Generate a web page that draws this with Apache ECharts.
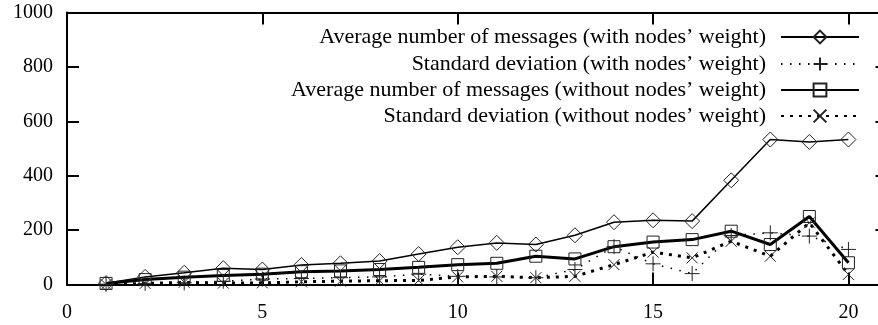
<!DOCTYPE html>
<html>
<head>
<meta charset="utf-8">
<script src="https://cdn.jsdelivr.net/npm/echarts@6/dist/echarts.min.js"></script>
<style>
html,body{margin:0;padding:0;background:#fff;}
#chart{width:878px;height:325px;}
</style>
</head>
<body>
<div id="chart"></div>
<script>
var xValues = [1,2,3,4,5,6,7,8,9,10,11,12,13,14,15,16,17,18,19,20];
var avgWithWeight = [5,28,43,60,55,72,78,86,112,137,153,147,181,229,236,233,383,533,524,533];
var stdWithWeight = [1,4,6,12,20,22,25,28,38,30,28,25,55,139,76,40,180,190,178,129];
var avgWithoutWeight = [4,18,27,33,38,47,50,55,63,73,78,104,94,139,156,165,196,147,250,80];
var stdWithoutWeight = [0,4,8,5,6,10,12,14,15,28,30,25,30,73,119,98,159,104,227,37];
var seriesNames = [
  'Average number of messages (with nodes\u2019 weight)',
  'Standard deviation (with nodes\u2019 weight)',
  'Average number of messages (without nodes\u2019 weight)',
  'Standard deviation (without nodes\u2019 weight)'
];
var xTicks = [0,5,10,15,20];
var yTicks = [0,200,400,600,800,1000];

function pairs(vals){ return xValues.map(function(x,i){ return [x, vals[i]]; }); }

var FONT = '"Liberation Serif", "DejaVu Serif", serif';
var chart = echarts.init(document.getElementById('chart'));

var GL = 67, GT = 12.5, GW = 820.5, GH = 272, TICK = 12;

var symDiamond = 'path://M0,-7L7,0L0,7L-7,0Z';
var symPlus = 'path://M0,-7L0,7M-7,0L7,0';
var symSquare = 'path://M-6,-6L6,-6L6,6L-6,6Z';
var symCross = 'path://M-6,-6L6,6M-6,6L6,-6';

function mkSeries(name, data, sym, size, lw, ltype){
  return {
    name: name, type: 'line', data: pairs(data), xAxisIndex: 0, yAxisIndex: 0,
    symbol: sym, symbolSize: size, symbolKeepAspect: true, showAllSymbol: true,
    itemStyle: {color: 'rgba(0,0,0,0)', borderColor: '#222', borderWidth: 1},
    lineStyle: {color: '#000', width: lw, type: ltype}
  };
}

var legendCenters = [37, 64, 90, 116];
var legends = seriesNames.map(function(n, i){
  return {
    data: [n], orient: 'vertical', right: 18, top: legendCenters[i] - 11,
    itemWidth: 78, itemHeight: 16, itemGap: 0, selectedMode: false, padding: 0,
    textStyle: {fontFamily: FONT, fontSize: 22, color: '#000', padding: [0, 10, 0, 0]},
    align: 'right'
  };
});

// Tick marks drawn as dashed split lines: a 12px dash at each end of the grid.
function tickSplit(span){
  return {show: true, lineStyle: {color: '#000', width: 2, type: [TICK, span - 2 * TICK, TICK, 4000]}};
}
function frameAxis(extra){
  var a = {
    axisLine: {show: true, onZero: false, lineStyle: {color: '#000', width: 2}},
    axisTick: {show: false},
    splitLine: {show: false}
  };
  for (var k in extra) a[k] = extra[k];
  return a;
}

var option = {
  animation: false,
  grid: {left: GL, top: GT, width: GW, height: GH, containLabel: false, outerBoundsMode: 'none'},
  legend: legends,
  xAxis: [
    frameAxis({type: 'value', min: 0, max: 21, interval: 5, position: 'bottom',
      splitLine: tickSplit(GH),
      axisLabel: {show: true, margin: 18, fontFamily: FONT, fontSize: 20, color: '#000', showMaxLabel: false,
        formatter: function(v){ return xTicks.indexOf(v) >= 0 ? String(v) : ''; }}}),
    frameAxis({type: 'value', min: 0, max: 21, interval: 5, position: 'top', axisLabel: {show: false}})
  ],
  yAxis: [
    frameAxis({type: 'value', min: 0, max: 1000, interval: 200, position: 'left',
      splitLine: tickSplit(GW),
      axisLabel: {show: true, margin: 14, fontFamily: FONT, fontSize: 20, color: '#000',
        formatter: function(v){ return yTicks.indexOf(v) >= 0 ? String(v) : ''; }}}),
    frameAxis({type: 'value', min: 0, max: 1000, interval: 200, position: 'right', axisLabel: {show: false}})
  ],
  series: [
    mkSeries(seriesNames[0], avgWithWeight, symDiamond, 15, 1.5, 'solid'),
    mkSeries(seriesNames[1], stdWithWeight, symPlus, 15, 1.5, [1.5, 7.5]),
    mkSeries(seriesNames[2], avgWithoutWeight, symSquare, 12, 3, 'solid'),
    mkSeries(seriesNames[3], stdWithoutWeight, symCross, 11, 3, [3, 6])
  ]
};
chart.setOption(option);
</script>
</body>
</html>
